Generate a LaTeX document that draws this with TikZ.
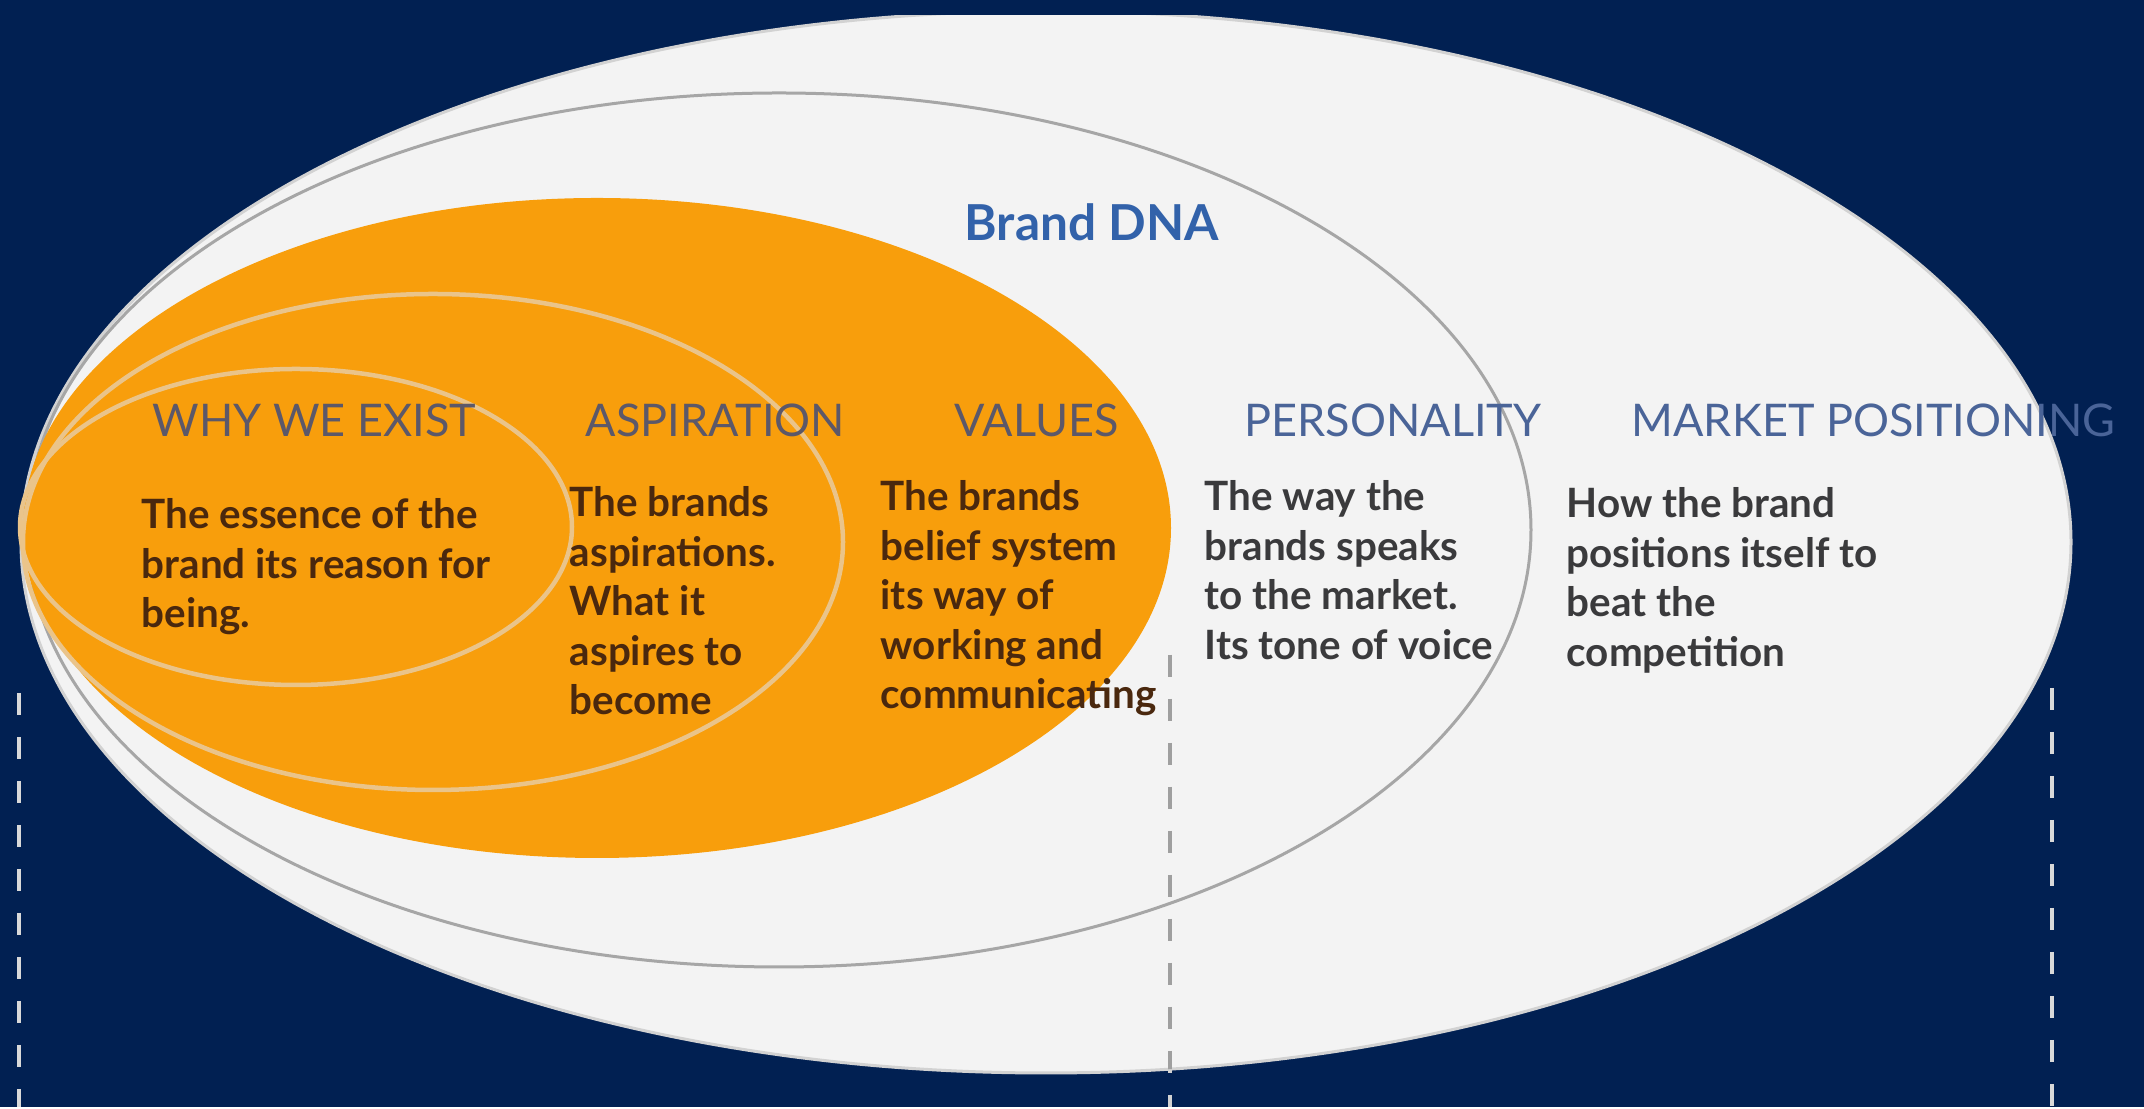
\documentclass[tikz,border=0pt]{standalone}
\usepackage{fontspec}
\setmainfont{Lato}

\definecolor{navy}{RGB}{1,32,82}
\definecolor{shell}{RGB}{243,243,243}
\definecolor{dnaorange}{RGB}{248,158,12}
\definecolor{ringbeige}{RGB}{234,196,138}
\definecolor{headgray}{RGB}{92,88,105}
\definecolor{headblue}{RGB}{74,100,152}
\definecolor{dnablue}{RGB}{50,98,170}
\definecolor{bodybrown}{RGB}{74,40,14}
\definecolor{bodygray}{RGB}{58,58,60}

\begin{document}
\begin{tikzpicture}[
    head/.style={anchor=base west, inner sep=0pt, font=\fontsize{12.8}{15}\selectfont},
    body/.style={anchor=north west, inner sep=0pt, align=left, font=\bfseries\fontsize{11.5}{14.1}\selectfont},
    guide/.style={dashed, dash pattern=on 0.22cm off 0.22cm, line width=0.04cm}]
    \fill[navy](0,0) rectangle (21.44,11.07);

    % outer shell, flattened at the top
    \begin{scope}
        \clip (0,0) rectangle (21.44,10.91);
        \draw[gray!35, line width=0.03cm, fill=shell](10.46,5.65) ellipse (10.25 and 5.31);
    \end{scope}
    \draw[gray!70, line width=0.03cm](7.79,5.77) ellipse (7.52 and 4.37);

    % the orange core and its two rings
    \fill[dnaorange](5.97,5.79) ellipse (5.74 and 3.30);
    \draw[ringbeige, line width=0.045cm](4.33,5.65) ellipse (4.10 and 2.48);
    \draw[ringbeige, line width=0.045cm](2.96,5.80) ellipse (2.76 and 1.58);

    % dashed guides
    \coordinate (lt) at (0.19,4.14);
    \coordinate (lb) at (0.19,0);
    \coordinate (mt) at (11.70,4.52);
    \coordinate (mb) at (11.70,0);
    \coordinate (rt) at (20.52,4.19);
    \coordinate (rb) at (20.52,0);
    \draw[guide, gray!30](lt) -- (lb);
    \draw[guide, gray!30](rt) -- (rb);
    \draw[guide, gray!35](mt) -- (mb);
    \begin{scope}
        \clip (10.46,5.65) ellipse (10.25 and 5.31);
        \draw[guide, gray!75](mt) -- (mb);
    \end{scope}

    \node[anchor=base west, inner sep=0pt, text=dnablue, font=\bfseries\fontsize{14.1}{17}\selectfont] (dna) at (9.64,8.66) {Brand DNA};

    \node[head, text=headgray] (why) at (1.52,6.70) {WHY WE EXIST};
    \node[head, text=headgray] (asp) at (5.85,6.70) {ASPIRATION};
    \node[head, text=headgray] (val) at (9.54,6.70) {VALUES};
    \node[head, text=headblue] (pers) at (12.44,6.70) {PERSONALITY};
    \node[head, text=headblue] (mkt) at (16.31,6.70) {MARKET POSITIONING};

    \node[body, text=bodybrown] (whytxt) at (1.41,6.09) {The essence of the\\brand its reason for\\being.};
    \node[body, text=bodybrown] (asptxt) at (5.69,6.21) {The brands\\aspirations.\\What it\\aspires to\\become};
    \node[body, text=bodybrown] (valtxt) at (8.80,6.27) {The brands\\belief system\\its way of\\working and\\communicating};
    \node[body, text=bodygray] (perstxt) at (12.04,6.27) {The way the\\brands speaks\\to the market.\\Its tone of voice};
    \node[body, text=bodygray] (mkttxt) at (15.66,6.20) {How the brand\\positions itself to\\beat the\\competition};
\end{tikzpicture}
\end{document}
